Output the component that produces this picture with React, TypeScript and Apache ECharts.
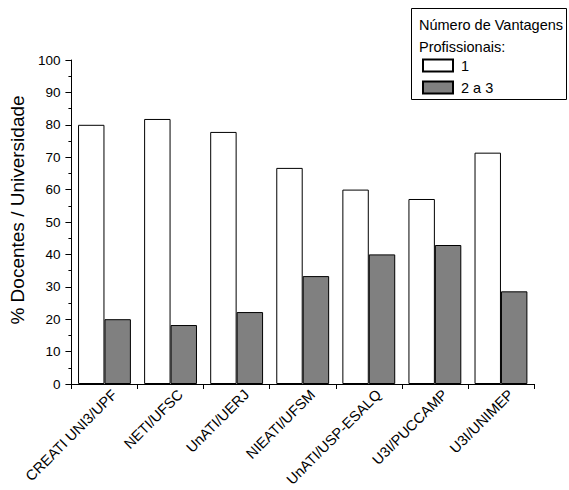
import React, { useEffect, useRef } from "react";
import * as echarts from "echarts";

const categories = [
  "CREATI UNI3/UPF",
  "NETI/UFSC",
  "UnATI/UERJ",
  "NIEATI/UFSM",
  "UnATI/USP-ESALQ",
  "U3I/PUCCAMP",
  "U3I/UNIMEP",
];
const seriesOne = [80, 81.8, 77.8, 66.7, 60, 57.1, 71.4];
const seriesTwoThree = [20, 18.2, 22.2, 33.3, 40, 42.9, 28.6];
const seriesNames = ["1", "2 a 3"];
const legendTitle = "Número de Vantagens\nProfissionais:";
const yAxisName = "% Docentes / Universidade";

const FONT = "'Liberation Sans', Arial, sans-serif";

export default function App() {
  const ref = useRef<HTMLDivElement>(null);
  useEffect(() => {
    if (!ref.current) return;
    const chart = echarts.init(ref.current, undefined, { renderer: "svg" });
    chart.setOption({
      animation: false,
      textStyle: { fontFamily: FONT, color: "#000" },
      grid: { left: 67, right: 35, top: 60, bottom: 106, containLabel: false },
      title: {
        text: legendTitle,
        left: 419,
        top: 14,
        padding: 0,
        textStyle: {
          fontFamily: FONT,
          fontSize: 14.5,
          fontWeight: "normal",
          color: "#000",
          lineHeight: 22,
        },
      },
      graphic: [
        {
          type: "rect",
          shape: { x: 411.5, y: 8.5, width: 155, height: 91 },
          style: { fill: "none", stroke: "#000", lineWidth: 1 },
          silent: true,
        },
      ],
      legend: {
        orient: "vertical",
        left: 422,
        top: 58,
        padding: 0,
        itemWidth: 30,
        itemHeight: 12,
        itemGap: 7,
        icon: "rect",
        data: seriesNames,
        textStyle: { fontFamily: FONT, fontSize: 14.5, color: "#000", padding: [0, 0, 0, 3] },
      },
      xAxis: {
        type: "category",
        data: categories,
        axisLine: { lineStyle: { color: "#000", width: 1 } },
        axisTick: { show: true, length: 5, lineStyle: { color: "#000" } },
        axisLabel: {
          rotate: 45,
          margin: 18,
          fontSize: 14.5,
          fontFamily: FONT,
          color: "#000",
          interval: 0,
          padding: [0, -14, 0, 0],
        },
      },
      yAxis: {
        type: "value",
        min: 0,
        max: 100,
        interval: 10,
        name: yAxisName,
        nameLocation: "middle",
        nameGap: 31,
        nameTextStyle: { fontFamily: FONT, fontSize: 19, color: "#000", padding: [0, 0, 0, 24] },
        axisLine: { show: true, lineStyle: { color: "#000", width: 1 } },
        axisTick: { show: true, length: 6, lineStyle: { color: "#000" } },
        minorTick: { show: true, splitNumber: 2, length: 3, lineStyle: { color: "#000" } },
        splitLine: { show: false },
        axisLabel: { fontSize: 13.5, fontFamily: FONT, color: "#000", margin: 11 },
      },
      series: [
        {
          name: seriesNames[0],
          type: "bar",
          data: seriesOne,
          barWidth: "40%",
          barGap: "0%",
          itemStyle: { color: "#ffffff", borderColor: "#000", borderWidth: 1 },
        },
        {
          name: seriesNames[1],
          type: "bar",
          data: seriesTwoThree,
          barWidth: "40%",
          barGap: "0%",
          itemStyle: { color: "#808080", borderColor: "#000", borderWidth: 1 },
        },
      ],
    });
    return () => chart.dispose();
  }, []);
  return (
    <div
      ref={ref}
      style={{ position: "absolute", left: 0, top: 0, width: 569, height: 490 }}
    />
  );
}
